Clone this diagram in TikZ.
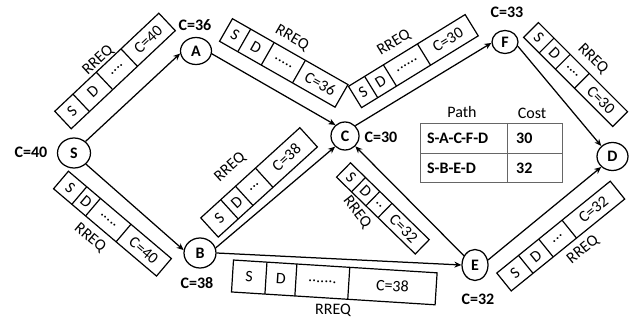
\documentclass[tikz,border=0pt]{standalone}
\usepackage{fontspec}
\setmainfont{Carlito}
\usetikzlibrary{shapes.geometric,arrows.meta}
\tikzset{
  vtx/.style={ellipse, draw, line width=1.25pt, inner sep=0pt, font=\fontsize{16}{16}\selectfont\bfseries},
  clab/.style={font=\fontsize{16}{16}\selectfont\bfseries, inner sep=0pt},
  edge/.style={line width=1.25pt, -{Stealth[length=7pt,width=6pt]}},
  pktline/.style={line width=1.2pt},
  pkttext/.style={font=\fontsize{16}{16}\selectfont, inner sep=0pt},
  rreq/.style={font=\fontsize{16}{16}\selectfont, inner sep=0pt},
  tabline/.style={line width=0.8pt, draw=black!60},
  tabtext/.style={font=\fontsize{16}{16}\selectfont\bfseries, inner sep=0pt, anchor=west},
  tabhead/.style={font=\fontsize{16}{16}\selectfont, inner sep=0pt},
  pics/packet/.style n args={7}{code={
    \draw[pktline] (0,-#5/2) rectangle (#4,#5/2);
    \draw[pktline] (#1,-#5/2) -- (#1,#5/2) (#2,-#5/2) -- (#2,#5/2) (#3,-#5/2) -- (#3,#5/2);
    \node[pkttext] (-s) at ({#1/2},0) {S};
    \node[pkttext] (-d) at ({(#1+#2)/2},0) {D};
    \node[pkttext] (-x) at ({(#2+#3)/2},0) {#6};
    \node[pkttext] (-c) at ({(#3+#4)/2},0) {#7};
  }}
}
\begin{document}
\begin{tikzpicture}[x=1pt,y=-1pt]
\useasboundingbox (0,0) rectangle (631,320);
% nodes
\node[vtx, minimum width=33pt, minimum height=30pt] (S) at (74,153) {S};
\node[vtx, minimum width=31pt, minimum height=27pt] (A) at (196,51) {A};
\node[vtx, minimum width=28pt, minimum height=28pt] (C) at (345,136) {C};
\node[vtx, minimum width=26pt, minimum height=23pt] (F) at (505,42) {F};
\node[vtx, minimum width=31pt, minimum height=28pt] (D) at (612.5,156.5) {D};
\node[vtx, minimum width=32pt, minimum height=30pt] (B) at (200,253) {B};
\node[vtx, minimum width=26pt, minimum height=31pt] (E) at (475,265) {E};
% cost labels
\node[clab] (cS) at (31,152) {C=40};
\node[clab] (cA) at (195,25) {C=36};
\node[clab] (cC) at (381,137) {C=30};
\node[clab] (cF) at (507,12) {C=33};
\node[clab] (cB) at (197,283) {C=38};
\node[clab] (cE) at (478,299) {C=32};
% edges
\draw[edge] (S.45) -- (A.189);
\draw[edge] (A.-10) -- (C.131);
\draw[edge] (C.45) -- (F.184);
\draw[edge] (F.-18) -- (D.137);
\draw[edge] (S.-43) -- (B.170);
\draw[edge] (B.18) -- (C.227);
\draw[edge] (B.0) -- (E.180);
\draw[edge] (E.140) -- (C.-45);
\draw[edge] (E.21) -- (D.223);
% packets
\pic[rotate=43.3, transform shape] (p1) at (63,120) {packet={25}{57}{91}{143}{24}{....}{C=40}};
\pic[rotate=-29.7, transform shape] (p2) at (226,30) {packet={21}{48}{84}{133}{26}{.....}{C=36}};
\pic[rotate=31.6, transform shape] (p3) at (355,97) {packet={19}{41}{81}{137}{25}{......}{C=30}};
\pic[rotate=-45, transform shape] (p4) at (531,30) {packet={22}{45}{72}{126}{21}{....}{C=30}};
\pic[rotate=-40.3, transform shape] (p5) at (61,180) {packet={24}{42}{82}{135}{23}{.....}{C=40}};
\pic[rotate=42.3, transform shape] (p6) at (209.5,227.5) {packet={27}{47}{74}{134}{26}{...}{C=38}};
\pic[rotate=-44.3, transform shape] (p7) at (343.5,170) {packet={21}{41}{58}{110}{20}{..}{C=32}};
\pic[rotate=39, transform shape] (p8) at (504,282) {packet={28}{54}{84}{146}{23}{...}{C=32}};
\pic[rotate=-3.6, transform shape] (p9) at (232.5,276) {packet={33.5}{63.5}{116.5}{204}{32}{.......}{C=38}};
% RREQ labels
\node[rreq, rotate=43] (r1) at (98,60) {RREQ};
\node[rreq, rotate=-30] (r2) at (292,38) {RREQ};
\node[rreq, rotate=31.6] (r3) at (394,43) {RREQ};
\node[rreq, rotate=-45] (r4) at (593,59) {RREQ};
\node[rreq, rotate=-40] (r5) at (90,238) {RREQ};
\node[rreq, rotate=42] (r6) at (230,167) {RREQ};
\node[rreq, rotate=-52] (r7) at (357,212) {RREQ};
\node[rreq, rotate=39] (r8) at (583,250) {RREQ};
\node[rreq] (r9) at (333,310) {RREQ};
% table
\draw[tabline] (420,123) rectangle (562,182);
\draw[tabline] (420,153) -- (562,153) (507,123) -- (507,182);
\node[tabhead] (th1) at (462,112) {Path};
\node[tabhead] (th2) at (532,113) {Cost};
\node[tabtext] (t11) at (427,138) {S-A-C-F-D};
\node[tabtext] (t12) at (516,138) {30};
\node[tabtext] (t21) at (427,168) {S-B-E-D};
\node[tabtext] (t22) at (516,168) {32};
\end{tikzpicture}
\end{document}
